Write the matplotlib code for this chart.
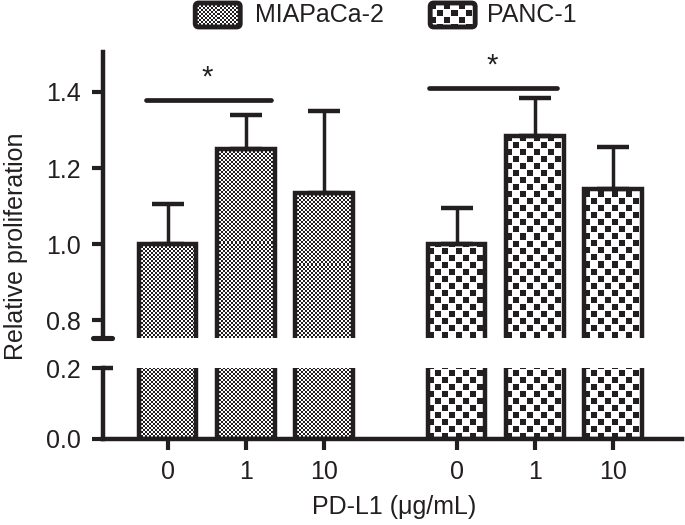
import numpy as np
import matplotlib
matplotlib.use('Agg')
import matplotlib.pyplot as plt
from matplotlib.colors import ListedColormap
from matplotlib.patches import FancyBboxPatch

plt.rcParams['font.family'] = ['Liberation Sans', 'DejaVu Sans']

# ---------------- data ----------------
groups = ['MIAPaCa-2', 'PANC-1']
doses = ['0', '1', '10']
mia_mean = [1.00, 1.25, 1.135]
mia_err = [0.105, 0.09, 0.215]
panc_mean = [1.00, 1.285, 1.145]
panc_err = [0.095, 0.10, 0.11]
upper_ticks = [0.8, 1.0, 1.2, 1.4]
lower_ticks = [0.0, 0.2]
sig_y = [1.38, 1.41]
sig_label = '*'
xlabel = 'PD-L1 (\u03bcg/mL)'
ylabel = 'Relative proliferation'

# ---------------- style ----------------
K = '#231f20'
FS = 18
LW = 2.5
group_gap = 3.7
bar_w = 0.74
patterns = {'MIAPaCa-2': (2, 2), 'PANC-1': (7, 6)}  # (cell px, dot px)
cmap = ListedColormap(['white', K])

fig = plt.figure(figsize=(6.85, 5.25), dpi=100)
ax_u = fig.add_axes([0.150, 0.356, 0.846, 0.545])
ax_l = fig.add_axes([0.150, 0.164, 0.846, 0.135])

xlim = (-0.83, 6.59)
ylim_u = (0.753, 1.505)
ylim_l = (0.0, 0.2)

pos = {
    'MIAPaCa-2': np.arange(len(doses)),
    'PANC-1': np.arange(len(doses)) + group_gap,
}
means = {'MIAPaCa-2': mia_mean, 'PANC-1': panc_mean}
errs = {'MIAPaCa-2': mia_err, 'PANC-1': panc_err}


def pattern(h, w, cell, dot):
    r = np.arange(h)[:, None]
    c = np.arange(w)[None, :]
    on = (((r // cell) + (c // cell)) % 2 == 0) & ((r % cell) < dot) & ((c % cell) < dot)
    return on.astype(float)


def fill_pattern(ax, bars, cell, dot, ylim):
    for b in bars:
        x0 = b.get_x()
        x1 = x0 + b.get_width()
        y0 = max(b.get_y(), ylim[0])
        y1 = min(b.get_y() + b.get_height(), ylim[1])
        (px0, py0), (px1, py1) = ax.transData.transform([(x0, y0), (x1, y1)])
        w = max(int(round(px1 - px0)), 1)
        h = max(int(round(py1 - py0)), 1)
        img = pattern(h, w, cell, dot)
        im = ax.imshow(img, extent=(x0, x1, y0, y1), origin='lower', cmap=cmap,
                       vmin=0, vmax=1, interpolation='nearest', aspect='auto', zorder=1)
        im.set_clip_path(b)


for ax, ylim in ((ax_u, ylim_u), (ax_l, ylim_l)):
    ax.set_xlim(*xlim)
    ax.set_ylim(*ylim)
    for g in groups:
        bars = ax.bar(pos[g], means[g], width=bar_w, facecolor='none', edgecolor=K,
                      linewidth=LW + 0.7, zorder=2)
        fill_pattern(ax, bars, *patterns[g], ylim)
    ax.set_xlim(*xlim)
    ax.set_ylim(*ylim)
    for s in ('top', 'right'):
        ax.spines[s].set_visible(False)
    ax.spines['left'].set_linewidth(LW + 0.7)
    ax.spines['left'].set_color(K)
    ax.tick_params(axis='y', length=8, width=LW + 0.5, color=K, labelsize=FS, pad=8,
                   labelcolor=K)

# upper axis
ax_u.spines['bottom'].set_visible(False)
ax_u.set_xticks([])
ax_u.set_yticks(upper_ticks)
ax_u.set_yticklabels([f'{t:.1f}' for t in upper_ticks])
for g in groups:
    ax_u.errorbar(pos[g], means[g], yerr=[np.zeros(len(doses)), errs[g]], fmt='none',
                  ecolor=K, elinewidth=LW, capsize=11.5, capthick=LW + 0.7, zorder=3)
# break cap
ax_u.plot([-0.017, 0.016], [0, 0], transform=ax_u.transAxes, color=K, lw=LW + 1.2,
          clip_on=False, solid_capstyle='round')

# significance
for g, yl in zip(groups, sig_y):
    p = pos[g]
    x0 = p[0] - 0.27 - (0.08 if g == 'PANC-1' else 0)
    x1 = p[1] + 0.33 - (0.04 if g == 'PANC-1' else 0)
    ax_u.plot([x0, x1], [yl, yl], color=K, lw=3.4, solid_capstyle='round', clip_on=False)
    ax_u.text((x0 + x1) / 2 - 0.02, yl + 0.022, sig_label, ha='center', va='bottom',
              fontsize=FS + 3, color=K)

# lower axis
ax_l.spines['bottom'].set_linewidth(LW + 0.7)
ax_l.spines['bottom'].set_color(K)
ax_l.set_yticks(lower_ticks)
ax_l.set_yticklabels([f'{t:.1f}' for t in lower_ticks])
ax_l.set_xticks(np.concatenate([pos[g] for g in groups]))
ax_l.set_xticklabels(doses * len(groups))
ax_l.tick_params(axis='x', length=8, width=LW + 0.5, color=K, labelsize=FS, pad=7,
                 labelcolor=K)
ax_l.plot([0, 0.018], [1, 1], transform=ax_l.transAxes, color=K, lw=LW + 0.7,
          clip_on=False, solid_capstyle='butt')

fig.text(0.576, 0.034, xlabel, ha='center', va='center', fontsize=FS, color=K)
fig.text(0.024, 0.53, ylabel, ha='center', va='center', rotation=90, fontsize=FS, color=K)

# legend (manual)
leg_boxes = {'MIAPaCa-2': (0.285, 0.372), 'PANC-1': (0.628, 0.711)}
for g in groups:
    bx, tx = leg_boxes[g]
    lax = fig.add_axes([bx, 0.9486, 0.0657, 0.0457])
    lax.imshow(pattern(24, 45, *patterns[g]), cmap=cmap, vmin=0, vmax=1,
               interpolation='nearest', aspect='auto', extent=(0, 1, 0, 1))
    lax.set_xticks([])
    lax.set_yticks([])
    for s in lax.spines.values():
        s.set_visible(False)
    lax.add_patch(FancyBboxPatch((0, 0), 1, 1, boxstyle='round,pad=0,rounding_size=0.08',
                                 transform=lax.transAxes, facecolor='none', edgecolor=K,
                                 linewidth=LW + 1, clip_on=False, mutation_aspect=45 / 24))
    fig.text(tx, 0.971, g, ha='left', va='center', fontsize=FS, color=K)

fig.savefig('out.png', dpi=100)
